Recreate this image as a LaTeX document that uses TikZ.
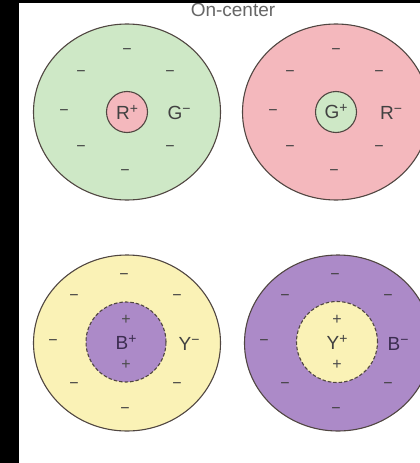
\documentclass[tikz,border=0pt]{standalone}
\usepackage{fontspec}
\setmainfont{Liberation Sans}
\usetikzlibrary{shapes.geometric}

\definecolor{fieldgreen}{RGB}{206,232,198}
\definecolor{fieldpink}{RGB}{244,184,189}
\definecolor{fieldyellow}{RGB}{250,242,182}
\definecolor{fieldpurple}{RGB}{172,138,200}
\definecolor{rimgray}{RGB}{80,70,65}
\definecolor{signgray}{RGB}{65,65,65}
\definecolor{signpurple}{RGB}{60,45,80}

\newcommand{\opp}[2]{#1\raisebox{.32em}{\fontsize{14}{14}\selectfont #2}}

\begin{document}
\begin{tikzpicture}[
  x=1pt, y=-1pt,
  font=\fontsize{19}{21}\selectfont,
  field/.style={ellipse, draw=rimgray, line width=1.1pt, minimum width=187pt, minimum height=176pt, inner sep=0pt},
  centre/.style={circle, draw=rimgray, line width=1.1pt, inner sep=0pt, minimum size=#1, text=signgray},
  ring/.style={centre=#1, dashed, dash pattern=on 3.5pt off 2pt},
  sign/.style={font=\fontsize{16}{16}\selectfont, text=signgray, inner sep=0pt},
  lbl/.style={text=signgray, inner sep=0pt}
]
\useasboundingbox (0,0) rectangle (420,463);
\clip (0,0) rectangle (420,463);
\fill[white] (0,0) rectangle (420,463);

% title
\node[lbl, text=black!60] (title) at (233,10) {On-center};

% red / green fields
\node[field, fill=fieldgreen] (gr) at (127,112) {};
\node[field, fill=fieldpink] (rg) at (336,112) {};
\node[centre=41pt, fill=fieldpink] (gr-c) at (gr) {\opp{R}{+}};
\node[centre=41pt, fill=fieldgreen] (rg-c) at (rg) {\opp{G}{+}};
\node[lbl] (gr-l) at ([shift={(52,1)}]gr) {\opp{G}{−}};
\node[lbl] (rg-l) at ([shift={(55,1)}]rg) {\opp{R}{−}};
\foreach \f in {gr, rg}
  \foreach \dx/\dy in {0/-60, -46/-38, 43/-38, -63/1, -46/37, 43/37, -2/61}
    \node[sign] at ([shift={(\dx,\dy)}]\f) {−};

% blue / yellow fields
\node[field, fill=fieldyellow] (by) at (127,343) {};
\node[field, fill=fieldpurple] (yb) at (338,343) {};
\node[ring=80pt, fill=fieldpurple, text=signpurple] (by-c) at ([shift={(-1,-1)}]by) {\opp{B}{+}};
\node[ring=81pt, fill=fieldyellow] (yb-c) at ([shift={(-1,-1)}]yb) {\opp{Y}{+}};
\node[lbl] (by-l) at ([shift={(62,1)}]by) {\opp{Y}{−}};
\node[lbl, text=signpurple] (yb-l) at ([shift={(60,1)}]yb) {\opp{B}{−}};
\foreach \f in {by, yb}
  \foreach \dx/\dy in {-3/-66, -53/-45, 50/-45, -74/0, -53/43, 50/43, -2/68}
    \node[sign, text=black!75] at ([shift={(\dx,\dy)}]\f) {−};
\foreach \f in {by-c, yb-c}
  \foreach \dy in {-22, 23}
    \node[sign, text=black!70] at ([shift={(0,\dy)}]\f) {+};

% dark frame strips
\fill[black] (0,0) rectangle (19,463);
\fill[black] (0,0) rectangle (420,3);
\end{tikzpicture}
\end{document}
